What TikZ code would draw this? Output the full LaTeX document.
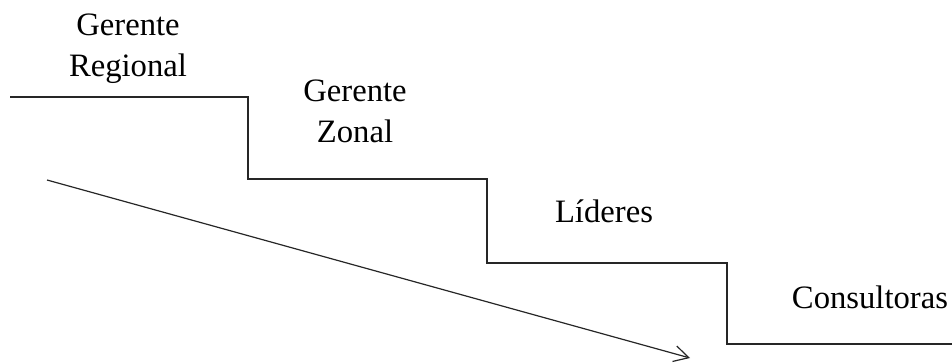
\documentclass[tikz,border=0pt]{standalone}
\usepackage{fontspec}
\setmainfont{Liberation Serif}
\usetikzlibrary{arrows.meta}
\begin{document}
\begin{tikzpicture}[x=0.75pt,y=-0.75pt,
  lbl/.style={font=\fontsize{24.5}{30.75}\selectfont, inner sep=0pt, align=center, anchor=base},
  stair/.style={line width=1.1pt, black!85},
  trend/.style={line width=0.9pt, black!85, -{Straight Barb[length=11pt,width=12pt,line width=0.9pt]}}]
\useasboundingbox (0,0) rectangle (952,363);
\coordinate (s0) at (10,97);
\coordinate (s1) at (248,97);
\coordinate (s2) at (248,179);
\coordinate (s3) at (487,179);
\coordinate (s4) at (487,263);
\coordinate (s5) at (727,263);
\coordinate (s6) at (727,344);
\coordinate (s7) at (952,344);
\draw[stair] (s0) -- (s1) -- (s2) -- (s3) -- (s4) -- (s5) -- (s6) -- (s7);
\coordinate (a0) at (47,180);
\coordinate (a1) at (690,358);
\draw[trend] (a0) -- (a1);
\node[lbl] (gr) at (128,77) {Gerente\\Regional};
\node[lbl] (gz) at (355,143) {Gerente\\Zonal};
\node[lbl] (li) at (604,223) {Líderes};
\node[lbl] (co) at (870,308) {Consultoras};
\end{tikzpicture}
\end{document}
